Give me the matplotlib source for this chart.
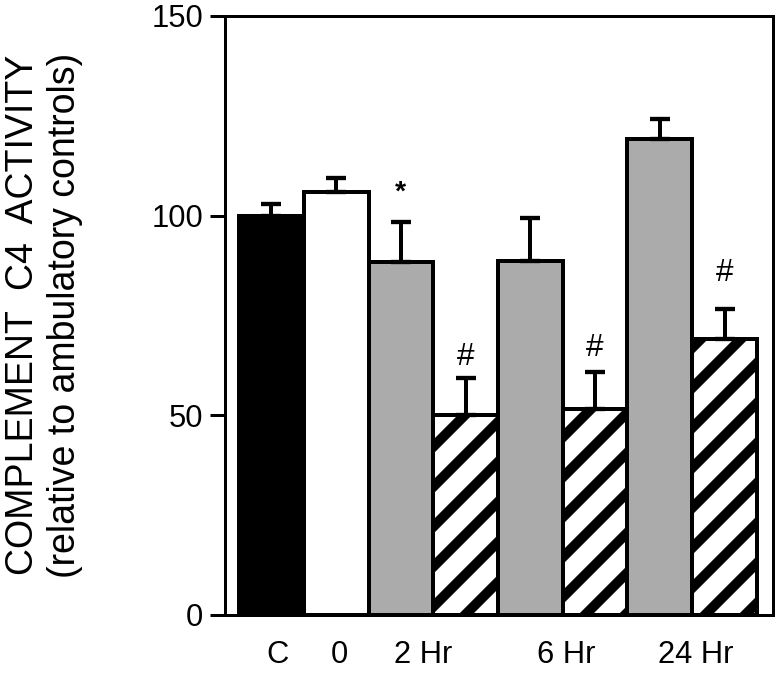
import matplotlib
matplotlib.use("Agg")
import matplotlib.pyplot as plt

# values (percent of ambulatory controls)
groups = ["C", "0", "2 Hr", "2 Hr", "6 Hr", "6 Hr", "24 Hr", "24 Hr"]
means = [100, 106, 88.5, 50, 88.7, 51.5, 119.2, 69]
errs_up = [3, 3.4, 10, 9.3, 10.7, 9.4, 5, 7.6]
tick_labels = ["C", "0", "2 Hr", "6 Hr", "24 Hr"]
star_marks = ["", "", "*", "#", "", "#", "", "#"]
mark_y = [0, 0, 105.7, 64.6, 0, 66.9, 0, 85.6]

face = ["black", "white", "#ababab", "white", "#ababab", "white", "#ababab", "white"]
hatch = [None, None, None, "/", None, "/", None, "/"]

plt.rcParams["font.family"] = ["Liberation Sans", "DejaVu Sans"]
plt.rcParams["hatch.linewidth"] = 6.0

fig = plt.figure(figsize=(6.5, 5.625), dpi=120)
ax = fig.add_axes([0.2885, 0.0889, 0.7025, 0.8874])

xs = list(range(len(means)))
ax.bar(xs, means, width=1.0, color=face, edgecolor="black", linewidth=2.4,
       hatch=hatch, zorder=2)
ax.errorbar(xs, means, yerr=[[0] * len(means), errs_up], fmt="none",
            ecolor="black", elinewidth=2.4, capsize=6, capthick=2.6, zorder=3)

for x, m, y in zip(xs, star_marks, mark_y):
    if m == "*":
        ax.text(x, y, m, ha="center", va="center", fontsize=17, fontweight="bold")
    elif m:
        ax.text(x, y, m, ha="center", va="center", fontsize=19)

ax.set_xlim(-0.716, 7.747)
ax.set_ylim(0, 150)
ax.set_yticks([0, 50, 100, 150])
ax.set_xticks([0.1, 1.05, 2.35, 4.55, 6.55])
ax.set_xticklabels(tick_labels)
ax.tick_params(axis="y", direction="out", length=9, width=1.8, pad=4, labelsize=18.5)
ax.tick_params(axis="x", length=0, pad=15, labelsize=18.5)
for s in ax.spines.values():
    s.set_linewidth(1.8)

fig.text(0.0423, 0.533, "COMPLEMENT  C4  ACTIVITY", rotation=90,
         rotation_mode="anchor", ha="center", va="baseline", fontsize=22.5)
fig.text(0.096, 0.533, "(relative to ambulatory controls)", rotation=90,
         rotation_mode="anchor", ha="center", va="baseline", fontsize=22.5)

fig.savefig("out.png", dpi=120)
